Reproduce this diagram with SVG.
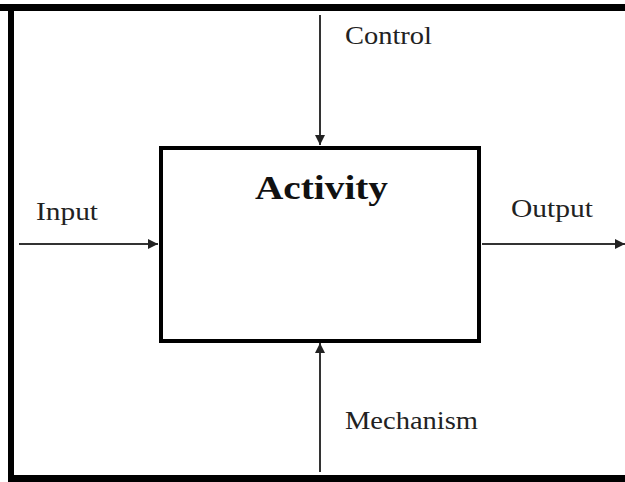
<svg xmlns="http://www.w3.org/2000/svg" width="625" height="482" viewBox="0 0 625 482">
<style>
.lbl{font-family:"Liberation Serif",serif;font-size:25px;fill:#222}
.conn{stroke:#333;stroke-width:2;fill:none}
</style>
<defs>
<marker id="ah" viewBox="0 0 10 10" refX="10" refY="5" markerWidth="5.5" markerHeight="5" orient="auto" markerUnits="strokeWidth"><path d="M0,0 L10,5 L0,10 z" fill="#222"/></marker>
</defs>
<rect width="625" height="482" fill="#fff"/>
<g id="frame">
<rect x="0" y="4" width="625" height="7" fill="#000"/>
<rect x="8" y="4" width="6" height="478" fill="#000"/>
<rect x="8" y="475" width="617" height="7" fill="#000"/>
</g>
<g id="connectors">
<line class="conn" x1="320" y1="15" x2="320" y2="145" marker-end="url(#ah)"/>
<line class="conn" x1="19" y1="244" x2="158" y2="244" marker-end="url(#ah)"/>
<line class="conn" x1="482" y1="244" x2="625" y2="244" marker-end="url(#ah)"/>
<line class="conn" x1="320" y1="472" x2="320" y2="343" marker-end="url(#ah)"/>
</g>
<g id="activity">
<rect x="161" y="148" width="318" height="193" fill="#fff" stroke="#000" stroke-width="4"/>
<text x="255" y="199" textLength="133" lengthAdjust="spacingAndGlyphs" font-family="Liberation Serif,serif" font-weight="bold" font-size="33" fill="#111">Activity</text>
</g>
<g id="control"><text class="lbl" x="345" y="44" textLength="87" lengthAdjust="spacingAndGlyphs">Control</text></g>
<g id="input"><text class="lbl" x="36" y="220" textLength="62" lengthAdjust="spacingAndGlyphs">Input</text></g>
<g id="output"><text class="lbl" x="511" y="217" textLength="82" lengthAdjust="spacingAndGlyphs">Output</text></g>
<g id="mechanism"><text class="lbl" x="345" y="429" textLength="133" lengthAdjust="spacingAndGlyphs">Mechanism</text></g>
</svg>
